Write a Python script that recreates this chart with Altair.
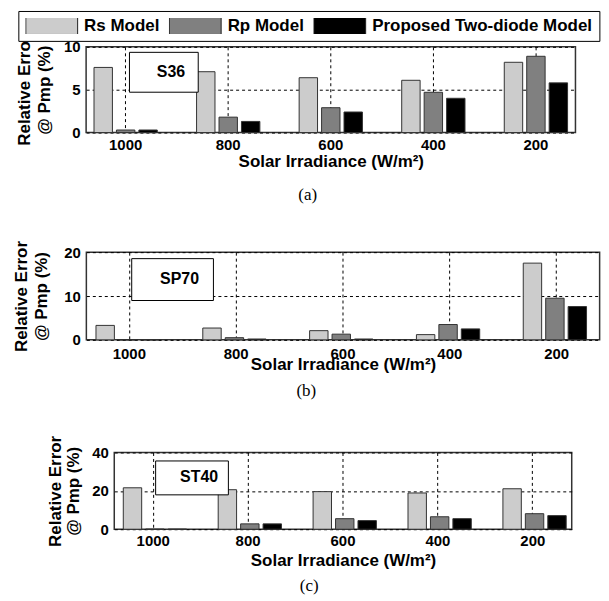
import altair as alt
import pandas as pd

irradiance = ["1000", "800", "600", "400", "200"]
models = ["Rs Model", "Rp Model", "Proposed Two-diode Model"]
model_colors = ["#cccccc", "#808080", "#000000"]

# S36 module (a)
s36_rs = [7.6, 7.1, 6.4, 6.1, 8.2]
s36_rp = [0.3, 1.8, 2.9, 4.7, 8.9]
s36_pro = [0.3, 1.3, 2.4, 4.0, 5.8]

# SP70 module (b)
sp70_rs = [3.3, 2.7, 2.1, 1.2, 17.5]
sp70_rp = [0.0, 0.5, 1.3, 3.5, 9.5]
sp70_pro = [0.0, 0.2, 0.2, 2.5, 7.6]

# ST40 module (c)
st40_rs = [21.6, 20.6, 19.6, 18.9, 21.1]
st40_rp = [0.0, 2.8, 5.5, 6.5, 8.1]
st40_pro = [0.0, 2.8, 4.5, 5.5, 7.1]

y_title = ["Relative Error", "@ Pmp (%)"]

FONT = "Liberation Sans"
SERIF = "Liberation Serif"


def make_df(name, rs, rp, pro):
    rows = []
    for i, irr in enumerate(irradiance):
        for m, vals in zip(models, [rs, rp, pro]):
            rows.append({"irr": irr, "model": m, "err": vals[i], "unit": name})
    return pd.DataFrame(rows)


def panel(df, ymax, yticks, width, height, p_inner, p_outer, off_pad,
          color_legend, ann_x, ann_y, ann_pad, caption, caption_offset,
          xlabel_pad, xtitle_pad, ytitle_pad, ytitle_lh):
    return alt.Chart(df).mark_bar(stroke="#333333", strokeWidth=1).encode(
        x=alt.X(
            "irr:N", sort=irradiance,
            scale=alt.Scale(paddingInner=p_inner, paddingOuter=p_outer),
            axis=alt.Axis(
                title="Solar Irradiance (W/m²)", labelAngle=0, grid=True,
                bandPosition=0.5, ticks=False, tickSize=0,
                labelPadding=xlabel_pad, titlePadding=xtitle_pad, domain=False,
            ),
        ),
        xOffset=alt.XOffset(
            "model:N", sort=models,
            scale=alt.Scale(paddingInner=off_pad, paddingOuter=0),
        ),
        y=alt.Y(
            "err:Q",
            scale=alt.Scale(domain=[0, ymax], nice=False),
            axis=alt.Axis(
                values=yticks, title=y_title,
                ticks=False, tickSize=0, labelPadding=6,
                titlePadding=ytitle_pad, titleLineHeight=ytitle_lh,
                domain=False, grid=True,
            ),
        ),
        color=alt.Color(
            "model:N", sort=models,
            scale=alt.Scale(domain=models, range=model_colors),
            legend=color_legend,
        ),
        opacity=alt.Opacity(
            "unit:O", scale=alt.Scale(range=[1, 1]),
            legend=alt.Legend(
                orient="none", legendX=ann_x, legendY=ann_y, title=None,
                symbolOpacity=0, symbolSize=0.01, symbolStrokeWidth=0,
                symbolType="square", clipHeight=16,
                labelOffset=0, padding=ann_pad, strokeColor="black",
                fillColor="white", labelFont=FONT, labelFontSize=16,
                labelFontWeight="bold", labelColor="black",
            ),
        ),
    ).properties(
        width=width, height=height,
        title=alt.Title(
            caption, orient="bottom", frame="bounds", anchor="middle",
            font=SERIF, fontSize=17, fontWeight="normal", color="black",
            offset=caption_offset,
        ),
    )


main_legend = alt.Legend(
    orient="none", legendX=-68, legendY=-36, direction="horizontal",
    columns=3, title=None, clipHeight=16,
    symbolType="M-1,-0.33L1,-0.33L1,0.33L-1,0.33Z", symbolSize=2704,
    symbolStrokeColor="#222222", symbolStrokeWidth=1, symbolOpacity=1,
    labelFont=FONT, labelFontSize=17, labelFontWeight="bold",
    labelColor="black", labelLimit=400, labelOffset=6, columnPadding=9,
    padding=7, strokeColor="black", fillColor="white",
)

chart_a = panel(make_df("S36", s36_rs, s36_rp, s36_pro), 10, [0, 5, 10],
                491, 86, 0.383, 0.077, 0.18, main_legend, 43, 5, 12,
                "(a)", 18, 5, 1, 10, 20)
chart_b = panel(make_df("SP70", sp70_rs, sp70_rp, sp70_pro), 20, [0, 10, 20],
                515, 88, 0.375, 0.09, 0.19, None, 45, 6, 13,
                "(b)", 10, 7, -5, 13, 20)
chart_c = panel(make_df("ST40", st40_rs, st40_rp, st40_pro), 40, [0, 20, 40],
                459, 77, 0.37, 0.095, 0.21, None, 41, 8, 9,
                "(c)", 10, 4, 4, 9, 18)

chart = alt.vconcat(chart_a, chart_b, chart_c, spacing=35, center=True).resolve_scale(
    opacity="independent"
).resolve_legend(
    color="independent", opacity="independent"
).configure(
    padding={"left": 4, "top": 0, "right": 0, "bottom": 0},
    background="white",
).configure_view(
    stroke="#333333", strokeWidth=1.5,
).configure_axis(
    labelFont=FONT, labelFontSize=15, labelFontWeight="bold", labelColor="black",
    titleFont=FONT, titleFontSize=17, titleFontWeight="bold", titleColor="black",
    gridColor="black", gridDash=[3, 3], gridWidth=1, gridOpacity=1,
)

chart.save("out.html", embed_options={"renderer": "svg", "actions": False})
